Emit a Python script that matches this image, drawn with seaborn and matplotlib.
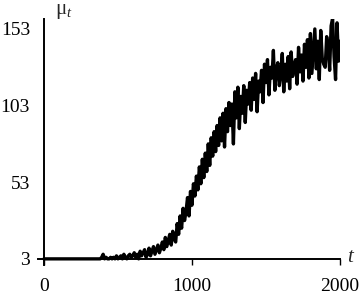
import numpy as np
import pandas as pd
import matplotlib
matplotlib.use("Agg")
import matplotlib.pyplot as plt
import seaborn as sns

# values, one every 10 time steps (t = 0 .. 2000)
mu_0_390 = [3] * 39 + [4]
mu_400_790 = [6, 3, 4, 3, 3, 4, 3, 4, 3, 5,
              3, 4, 5, 3, 6, 4, 3, 5, 6, 4,
              5, 7, 4, 6, 3, 8, 5, 7, 9, 4,
              6, 10, 5, 8, 11, 6, 9, 12, 7, 10]
mu_800_1190 = [14, 9, 17, 11, 15, 19, 12, 21, 16, 14,
               26, 19, 31, 23, 36, 28, 34, 43, 31, 47,
               38, 52, 44, 57, 48, 63, 52, 68, 56, 72,
               60, 78, 64, 82, 70, 86, 73, 90, 77, 95]
mu_1200_1590 = [80, 98, 76, 101, 86, 105, 90, 104, 78, 112,
                95, 115, 88, 109, 98, 116, 92, 113, 104, 118,
                100, 121, 107, 124, 99, 119, 112, 126, 105, 130,
                118, 133, 110, 128, 121, 139, 113, 127, 131, 116]
mu_1600_2000 = [124, 137, 112, 130, 119, 135, 114, 138, 122, 129,
                133, 117, 141, 125, 136, 119, 143, 128, 146, 121,
                150, 124, 139, 153, 127, 145, 120, 152, 134, 130,
                128, 148, 141, 126, 155, 160, 135, 120, 157, 132,
                145]

mu = mu_0_390 + mu_400_790 + mu_800_1190 + mu_1200_1590 + mu_1600_2000
t = np.arange(0, 10 * len(mu), 10)

x_ticks = [0, 1000, 2000]
y_ticks = [3, 53, 103, 153]

sns.set_theme(style="white")
plt.rcParams["font.family"] = ["Liberation Serif", "DejaVu Serif"]
plt.rcParams["mathtext.fontset"] = "custom"
plt.rcParams["mathtext.rm"] = "Liberation Serif"
plt.rcParams["mathtext.it"] = "Liberation Serif:italic"

df = pd.DataFrame({"t": t, "mu": mu})

fig = plt.figure(figsize=(3.6, 2.99), dpi=100)
ax = fig.add_axes([38 / 360, 34 / 299, 302 / 360, 246 / 299])

sns.lineplot(data=df, x="t", y="mu", color="black", lw=2.4, ax=ax)

ax.set_xlim(-40, 2000)
ax.set_ylim(-1, 159.5)

for side in ["top", "right"]:
    ax.spines[side].set_visible(False)
ax.spines["bottom"].set_position(("data", 3))
ax.spines["bottom"].set_bounds(-40, 2000)
ax.spines["left"].set_position(("data", 0))
ax.spines["left"].set_bounds(-1, 159.5)
for side in ["bottom", "left"]:
    ax.spines[side].set_color("black")
    ax.spines[side].set_linewidth(1.4)

ax.set_xticks(x_ticks)
ax.set_yticks(y_ticks)
ax.set_xticklabels([str(v) for v in x_ticks])
ax.set_yticklabels([str(v) for v in y_ticks])
ax.tick_params(axis="x", direction="out", length=4.5, width=1.0, color="black",
               bottom=True, pad=9, labelsize=14, labelcolor="black")
ax.tick_params(axis="y", length=0, pad=10, labelsize=14, labelcolor="black")

ax.set_xlabel("")
ax.set_ylabel("")

fig.text(55 / 360, 0.952, r"$\mathrm{\mu}_t$", fontsize=15, ha="left", va="baseline")
fig.text(347 / 360, 0.124, "t", fontsize=15, style="italic", ha="left", va="baseline")

fig.savefig("out.png", dpi=100, facecolor="white")
